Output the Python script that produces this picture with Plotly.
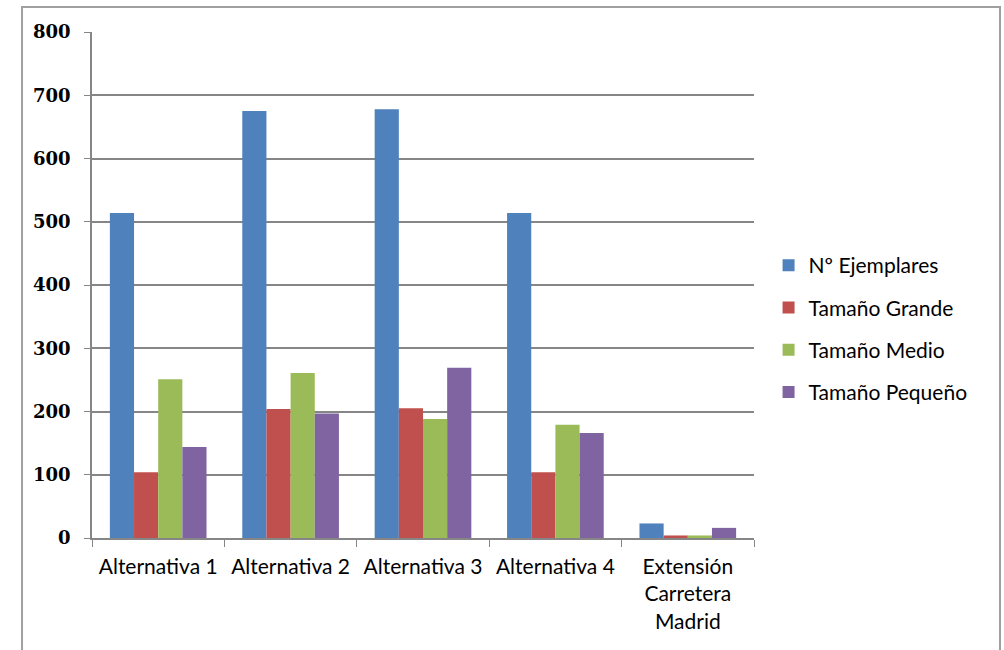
import plotly.graph_objects as go

categories = ["Alternativa 1", "Alternativa 2", "Alternativa 3", "Alternativa 4",
              "Extensión<br>Carretera<br>Madrid"]
series_names = ["Nº Ejemplares", "Tamaño Grande", "Tamaño Medio", "Tamaño Pequeño"]
ejemplares = [514, 675, 678, 514, 23]
grande = [104, 204, 205, 104, 4]
medio = [251, 261, 188, 179, 4]
pequeno = [144, 197, 269, 166, 16]
colors = ["#4F81BD", "#C0504D", "#9BBB59", "#8064A2"]
y_ticks = [0, 100, 200, 300, 400, 500, 600, 700, 800]

fig = go.Figure()
for i, (name, vals) in enumerate(zip(series_names, [ejemplares, grande, medio, pequeno])):
    fig.add_trace(go.Bar(
        x=categories, y=vals, name=name, marker_color=colors[i],
        marker_line_width=0, legendgroup=f"g{i}",
    ))

fig.update_layout(
    width=1004, height=650,
    paper_bgcolor="white", plot_bgcolor="white",
    margin=dict(l=92, r=250, t=32, b=112),
    barmode="group", bargap=0.27, bargroupgap=0,
    font=dict(family="Lato", size=21, color="#000000"),
    legend=dict(x=1.022, y=0.413, xanchor="left", yanchor="middle",
                traceorder="grouped", tracegroupgap=12,
                font=dict(family="Lato", size=21, color="#000000"),
                itemwidth=30),
    showlegend=True,
)
fig.update_xaxes(
    showline=True, linecolor="#868686", linewidth=1.5,
    ticks="outside", tickson="boundaries", ticklen=7, tickcolor="#868686",
    tickfont=dict(family="Lato", size=21, color="#000000"),
    ticklabelstandoff=9,
)
fig.update_yaxes(
    range=[0, 800], tickvals=y_ticks,
    showline=True, linecolor="#868686", linewidth=1.5,
    showgrid=True, gridcolor="#868686", gridwidth=1.5,
    ticks="outside", ticklen=6, tickcolor="#868686",
    tickfont=dict(family="DejaVu Serif", size=18, color="#000000", weight="bold"),
    ticklabelstandoff=10, zeroline=False,
)
fig.add_shape(type="rect", xref="paper", yref="paper",
              x0=-0.1057, x1=1.3716, y0=-0.3, y1=1.0494,
              line=dict(color="#A0A0A0", width=2), fillcolor="rgba(0,0,0,0)", layer="below")

fig.write_html("out.html")
